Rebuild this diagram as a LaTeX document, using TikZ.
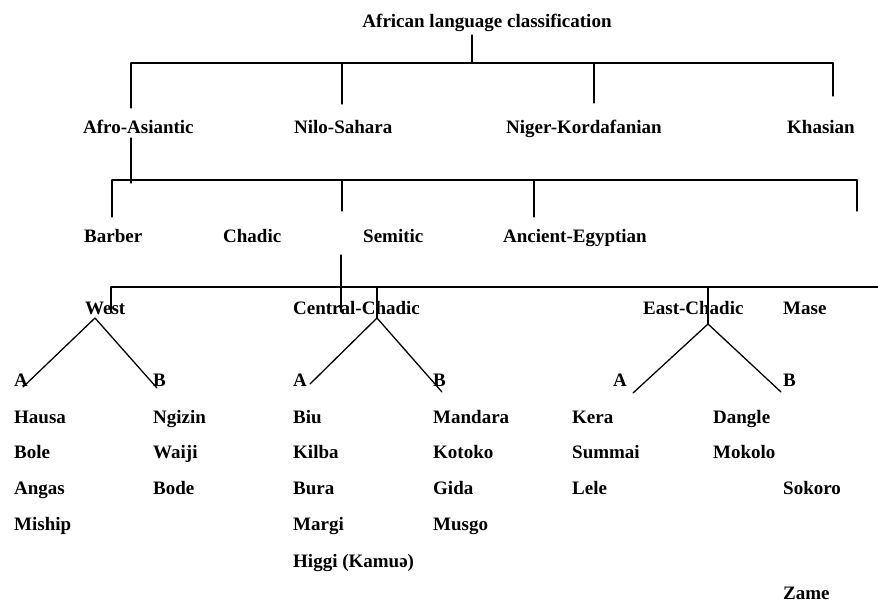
\documentclass[tikz,border=0pt]{standalone}
\usepackage{fontspec}
\setmainfont{Liberation Serif}
\usepackage{tkz-euclide}
\usetikzlibrary{arrows}

\begin{document}
\begin{tikzpicture}[x=1pt, y=-1pt, font=\fontsize{19}{22}\selectfont\bfseries,
	    lbl/.style={anchor=base west, inner sep=0pt}]
	    \useasboundingbox (0,0) rectangle (878,604);
	    % points of the tree
	    \tkzDefPoint(472,35){v_1}
	    \tkzDefPoint(472,63){v_2}
	    \tkzDefPoint(131,63){v_3}
	    \tkzDefPoint(833,63){v_4}
	    \tkzDefPoint(131,108){v_5}
	    \tkzDefPoint(342,63){v_6}
	    \tkzDefPoint(342,104){v_7}
	    \tkzDefPoint(594,63){v_8}
	    \tkzDefPoint(594,103){v_9}
	    \tkzDefPoint(833,96){v_{10}}
	    \tkzDefPoint(131,138){v_{11}}
	    \tkzDefPoint(131,183){v_{12}}
	    \tkzDefPoint(112,180){v_{13}}
	    \tkzDefPoint(857,180){v_{14}}
	    \tkzDefPoint(112,217){v_{15}}
	    \tkzDefPoint(342,180){v_{16}}
	    \tkzDefPoint(342,211){v_{17}}
	    \tkzDefPoint(534,180){v_{18}}
	    \tkzDefPoint(534,217){v_{19}}
	    \tkzDefPoint(857,211){v_{20}}
	    \tkzDefPoint(341,255){v_{21}}
	    \tkzDefPoint(341,312){v_{22}}
	    \tkzDefPoint(111,287){v_{23}}
	    \tkzDefPoint(878,287){v_{24}}
	    \tkzDefPoint(111,313){v_{25}}
	    \tkzDefPoint(377,287){v_{26}}
	    \tkzDefPoint(377,318){v_{27}}
	    \tkzDefPoint(708,287){v_{28}}
	    \tkzDefPoint(708,324){v_{29}}
	    \tkzDefPoint(95,318){v_{30}}
	    \tkzDefPoint(23,387){v_{31}}
	    \tkzDefPoint(157,388){v_{32}}
	    \tkzDefPoint(310,384){v_{33}}
	    \tkzDefPoint(442,392){v_{34}}
	    \tkzDefPoint(633,393){v_{35}}
	    \tkzDefPoint(781,392){v_{36}}
	    \tkzDrawSegments[line width=1.3pt, color=black](v_1,v_2 v_3,v_4 v_3,v_5 v_6,v_7 v_8,v_9 v_4,v_{10})
	    \tkzDrawSegments[line width=1.3pt, color=black](v_{11},v_{12} v_{13},v_{14} v_{13},v_{15} v_{16},v_{17} v_{18},v_{19} v_{14},v_{20})
	    \tkzDrawSegments[line width=1.3pt, color=black](v_{21},v_{22} v_{23},v_{24} v_{23},v_{25} v_{26},v_{27} v_{28},v_{29})
	    \tkzDrawSegments[line width=1.3pt, color=black](v_{30},v_{31} v_{30},v_{32} v_{27},v_{33} v_{27},v_{34} v_{29},v_{35} v_{29},v_{36})
	    % labels
	    \node[anchor=base, inner sep=0pt] (t_0) at (487,28) {African language classification};
	    \node[lbl] (t_1) at (83,134) {Afro-Asiantic};
	    \node[lbl] (t_2) at (294,134) {Nilo-Sahara};
	    \node[lbl] (t_3) at (506,134) {Niger-Kordafanian};
	    \node[lbl] (t_4) at (787,134) {Khasian};
	    \node[lbl] (t_5) at (84,243) {Barber};
	    \node[lbl] (t_6) at (223,243) {Chadic};
	    \node[lbl] (t_7) at (363,243) {Semitic};
	    \node[lbl] (t_8) at (503,243) {Ancient-Egyptian};
	    \node[lbl] (t_9) at (85,314) {West};
	    \node[lbl] (t_{10}) at (293,314) {Central-Chadic};
	    \node[lbl] (t_{11}) at (643,314) {East-Chadic};
	    \node[lbl] (t_{12}) at (783,314) {Mase};
	    \node[lbl] (t_{13}) at (14,386) {A};
	    \node[lbl] (t_{14}) at (153,386) {B};
	    \node[lbl] (t_{15}) at (293,386) {A};
	    \node[lbl] (t_{16}) at (433,386) {B};
	    \node[lbl] (t_{17}) at (613,386) {A};
	    \node[lbl] (t_{18}) at (783,386) {B};
	    % languages
	    \node[lbl] (h_1) at (14,423) {Hausa};
	    \node[lbl] (h_2) at (14,458) {Bole};
	    \node[lbl] (h_3) at (14,494) {Angas};
	    \node[lbl] (h_4) at (14,530) {Miship};
	    \node[lbl] (n_1) at (153,423) {Ngizin};
	    \node[lbl] (n_2) at (153,458) {Waiji};
	    \node[lbl] (n_3) at (153,494) {Bode};
	    \node[lbl] (b_1) at (293,423) {Biu};
	    \node[lbl] (b_2) at (293,458) {Kilba};
	    \node[lbl] (b_3) at (293,494) {Bura};
	    \node[lbl] (b_4) at (293,530) {Margi};
	    \node[lbl] (b_5) at (293,567) {Higgi (Kamuə)};
	    \node[lbl] (m_1) at (433,423) {Mandara};
	    \node[lbl] (m_2) at (433,458) {Kotoko};
	    \node[lbl] (m_3) at (433,494) {Gida};
	    \node[lbl] (m_4) at (433,530) {Musgo};
	    \node[lbl] (k_1) at (572,423) {Kera};
	    \node[lbl] (k_2) at (572,458) {Summai};
	    \node[lbl] (k_3) at (572,494) {Lele};
	    \node[lbl] (d_1) at (713,423) {Dangle};
	    \node[lbl] (d_2) at (713,458) {Mokolo};
	    \node[lbl] (s_1) at (783,494) {Sokoro};
	    \node[lbl] (s_2) at (783,599) {Zame};
	\end{tikzpicture}
\end{document}
